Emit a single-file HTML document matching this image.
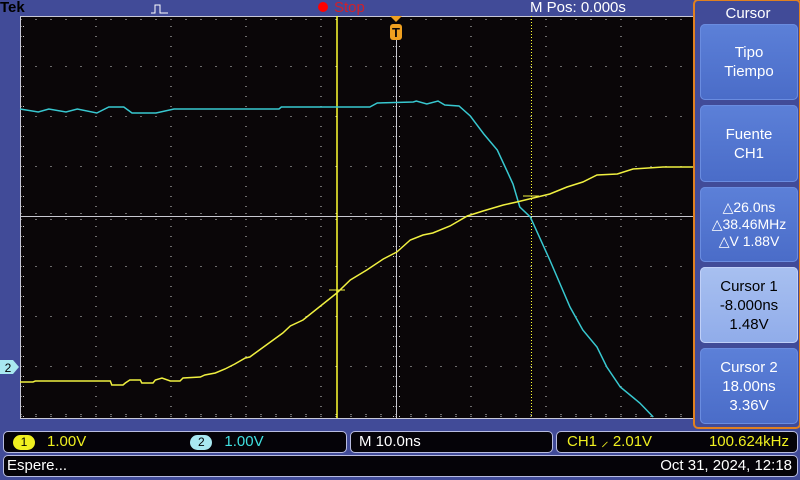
<!DOCTYPE html>
<html><head><meta charset="utf-8">
<style>
body{margin:0;width:800px;height:480px;overflow:hidden;background:#414b98;font-family:"Liberation Sans",sans-serif;position:relative}
.abs{position:absolute}
.btn{position:absolute;left:700px;width:98px;border-radius:5px;background:linear-gradient(#5c80d8,#4a6cc8);color:#fff;text-align:center;font-size:15px;line-height:19px;display:flex;flex-direction:column;justify-content:center;box-shadow:inset 0 0 0 1px #6a8ce0}
.box{position:absolute;background:#050308;border:1px solid #b8bce0;border-radius:5px;color:#fff;font-size:15px;line-height:20px}
.pill{display:inline-block;width:22px;height:15px;border-radius:8px;text-align:center;line-height:15px;font-size:12px;color:#000;vertical-align:middle}
</style></head><body>
<div class="abs" style="left:0;top:-1px;font-weight:bold;font-size:15px;color:#000">Tek</div>
<div class="abs" style="left:318px;top:2px;width:10px;height:10px;border-radius:5px;background:#f00"></div>
<div class="abs" style="left:334px;top:-1px;color:#d0202a;font-size:15px">Stop</div>
<div class="abs" style="left:530px;top:-1px;color:#fff;font-size:15px">M Pos: 0.000s</div>
<svg class="abs" style="left:0;top:0" width="800" height="480">
<path d="M151 13 H155 V5 H160 V13 H168" stroke="#fff" fill="none" stroke-width="1"/>
<rect x="20" y="16" width="675" height="402" fill="#0a0608"/>
<line x1="20" y1="16.5" x2="695" y2="16.5" stroke="#c8c8d8"/>
<line x1="20" y1="418.5" x2="695" y2="418.5" stroke="#c8c8d8"/>
<line x1="20.5" y1="16" x2="20.5" y2="419" stroke="#c8c8d8"/>
<g id="grid"></g>
<line x1="20" y1="216.5" x2="695" y2="216.5" stroke="#c8c8d0"/>
<line x1="396.5" y1="40" x2="396.5" y2="418" stroke="#c8c8d0"/>
<line x1="337" y1="16" x2="337" y2="418" stroke="#ffff30" stroke-width="1.5"/>
<line x1="531.5" y1="16" x2="531.5" y2="418" stroke="#ffff30" stroke-dasharray="1,2"/>
<g id="traces"></g>
<path d="M390 16 H402 L396 22 Z" fill="#f0a020"/>
<rect x="390" y="24" width="12" height="16" rx="3" fill="#f0a020"/>
<text x="396" y="37" font-size="13" font-weight="bold" fill="#0a0608" text-anchor="middle">T</text>
<path d="M0 360 H13 L19 367 L13 374 H0 Z" fill="#a8e8f0"/>
<text x="8" y="372" font-size="12" fill="#000" text-anchor="middle">2</text>
<rect x="694" y="0" width="106" height="428" rx="4" fill="#414b98" stroke="#e08020" stroke-width="2"/>
</svg>
<div class="abs" style="left:696px;top:5px;width:104px;text-align:center;color:#fff;font-size:15px">Cursor</div>
<div class="btn" style="top:24px;height:76px">Tipo<br>Tiempo</div>
<div class="btn" style="top:105px;height:77px">Fuente<br>CH1</div>
<div class="btn" style="top:187px;height:75px;font-size:14px;line-height:17px">△26.0ns<br>△38.46MHz<br>△V 1.88V</div>
<div class="btn" style="top:267px;height:76px;background:linear-gradient(#a8c0f0,#90acea);box-shadow:inset 0 0 0 1px #c0d0f8;color:#000">Cursor 1<br>-8.000ns<br>1.48V</div>
<div class="btn" style="top:348px;height:76px">Cursor 2<br>18.00ns<br>3.36V</div>
<div class="box" style="left:3px;top:431px;width:342px;height:20px">
<span class="pill" style="background:#f0f020;margin-left:9px">1</span><span style="color:#f0f020;margin-left:12px">1.00V</span>
<span class="pill" style="background:#a8e8f0;margin-left:100px">2</span><span style="color:#40e0e0;margin-left:12px">1.00V</span></div>
<div class="box" style="left:350px;top:431px;width:201px;height:20px"><span style="margin-left:8px">M 10.0ns</span></div>
<div class="box" style="left:556px;top:431px;width:240px;height:20px;color:#f0f020"><span style="margin-left:10px">CH1 ⸝ 2.01V</span><span style="position:absolute;right:8px">100.624kHz</span></div>
<div class="box" style="left:3px;top:455px;width:793px;height:20px"><span style="margin-left:3px">Espere...</span><span style="position:absolute;right:5px">Oct 31, 2024, 12:18</span></div>
<script>
const ch1Time=[-50.2,-48.4,-48.1,-46.5,-38.1,-37.9,-36.4,-36.1,-35.5,-34.1,-33.9,-32.4,-32.1,-31.2,-30.1,-28.8,-28.4,-26.1,-25.5,-24.1,-22.8,-21.5,-20.1,-19.5,-15.1,-14.1,-12.4,-7.9,-6.1,-3.9,-1.7,0.1,1.9,3.6,4.9,7.2,9.5,11.6,14.3,16.1,18.3,20.5,22.8,24.9,26.8,29.5,31.6,35.6,40];
const ch1Volts=[-0.36,-0.36,-0.34,-0.34,-0.34,-0.42,-0.42,-0.38,-0.32,-0.32,-0.38,-0.38,-0.32,-0.28,-0.34,-0.34,-0.28,-0.26,-0.22,-0.18,-0.10,0,0.12,0.14,0.62,0.76,0.88,1.42,1.68,1.88,2.10,2.24,2.48,2.58,2.62,2.76,2.96,3.06,3.18,3.24,3.32,3.40,3.54,3.64,3.78,3.80,3.90,3.94,3.94];
const ch2Time=[-50.2,-47.7,-46.3,-44.0,-42.5,-39.9,-38.3,-36.3,-35.2,-32.0,-29.6,-15.6,-15.3,-3.5,-2.5,2.3,2.7,4.1,5.6,6.5,8.4,9.9,11.7,13.5,15.6,16.5,17.9,20.5,23.2,24.9,26.8,28.1,29.9,32.5,34.3];
const ch2Volts=[5.16,5.10,5.16,5.10,5.16,5.08,5.20,5.20,5.08,5.08,5.16,5.16,5.20,5.20,5.28,5.30,5.32,5.26,5.32,5.24,5.22,5.02,4.66,4.34,3.66,3.20,3.00,2.14,1.20,0.74,0.40,0.00,-0.40,-0.72,-1.00];
const xS=t=>396+t*7.5;
const y1=v=>364-v*50;
const y2=v=>367-v*50;
const NS="http://www.w3.org/2000/svg";
const grid=document.getElementById('grid');
let d="";
for(let gx=20;gx<=695;gx+=75){for(let yy=16;yy<=418;yy+=10)d+=`M${gx+.5} ${yy}h1v1h-1z`;}
for(let gy=16;gy<=418;gy+=50){for(let xx=20;xx<=695;xx+=15)d+=`M${xx+.5} ${gy}h1v1h-1z`;}
for(let xx=20;xx<=695;xx+=15){d+=`M${xx+.5} 213h1v1h-1zM${xx+.5} 219h1v1h-1zM${xx+.5} 19h1v1h-1zM${xx+.5} 414h1v1h-1z`;}
for(let yy=16;yy<=418;yy+=10){d+=`M393 ${yy}h1v1h-1zM399 ${yy}h1v1h-1zM23 ${yy}h1v1h-1z`;}
const gp=document.createElementNS(NS,'path');gp.setAttribute('d',d);gp.setAttribute('fill','#d0d0d0');


grid.appendChild(gp);
function trace(ts,vs,ys,col,name){
 let p="";for(let i=0;i<ts.length;i++){const x=Math.max(20,Math.min(695,xS(ts[i])));const y=Math.min(418,ys(vs[i]));p+=(i?"L":"M")+x.toFixed(1)+" "+y.toFixed(1);}
 const e=document.createElementNS(NS,'path');e.setAttribute('d',p);e.setAttribute('stroke',col);e.setAttribute('fill','none');e.setAttribute('stroke-width','1.5');
 
 
 document.getElementById('traces').appendChild(e);
}
trace(ch2Time,ch2Volts,y2,'#38c8d0','ch2-trace');
trace(ch1Time,ch1Volts,y1,'#f0f040','ch1-trace');
const tk=document.createElementNS(NS,'path');
tk.setAttribute('d',`M329 ${y1(1.48)}h16M523 ${y1(3.36)}h16`);tk.setAttribute('stroke','#f0f040');


document.getElementById('traces').appendChild(tk);
</script>
</body></html>
